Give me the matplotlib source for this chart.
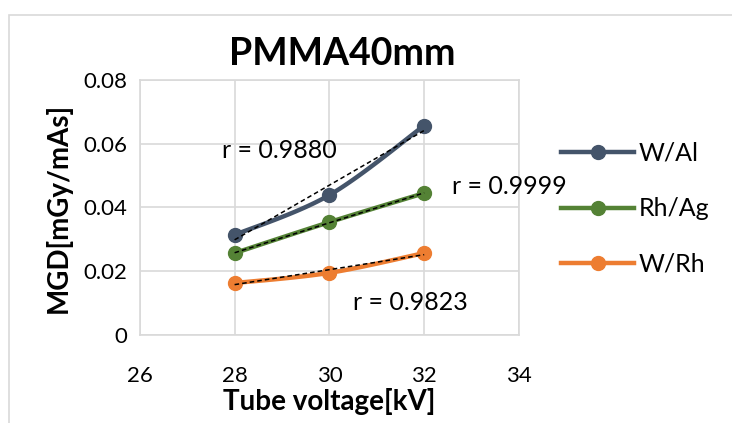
import numpy as np
import matplotlib.pyplot as plt
from matplotlib.lines import Line2D

# data
kv = [28, 30, 32]
w_al = [0.0314, 0.0439, 0.0657]
rh_ag = [0.0257, 0.0354, 0.0445]
w_rh = [0.0163, 0.0195, 0.0257]
series_names = ['W/Al', 'Rh/Ag', 'W/Rh']
r_labels = ['r = 0.9880', 'r = 0.9999', 'r = 0.9823']
colors = ['#44546a', '#548235', '#ed7d31']

plt.rcParams['font.family'] = ['Lato', 'DejaVu Sans']


def smooth(x, y, n=40):
    # cardinal spline through the points, similar to Excel's smoothed line
    x = np.asarray(x, float)
    y = np.asarray(y, float)
    px = np.concatenate([[x[0]], x, [x[-1]]])
    py = np.concatenate([[y[0]], y, [y[-1]]])
    xs, ys = [], []
    t = np.linspace(0, 1, n)
    for i in range(1, len(px) - 2):
        p0, p1, p2, p3 = (np.array([px[j], py[j]]) for j in (i - 1, i, i + 1, i + 2))
        c1 = p1 + (p2 - p0) / 6
        c2 = p2 - (p3 - p1) / 6
        b = ((1 - t) ** 3)[:, None] * p1 + (3 * (1 - t) ** 2 * t)[:, None] * c1 \
            + (3 * (1 - t) * t ** 2)[:, None] * c2 + (t ** 3)[:, None] * p2
        xs.append(b[:, 0])
        ys.append(b[:, 1])
    return np.concatenate(xs), np.concatenate(ys)


fig = plt.figure(figsize=(7.32, 4.23), dpi=100)
ax = fig.add_axes([0.191, 0.208, 0.518, 0.603])

handles = []
for ys, name, c in zip([w_al, rh_ag, w_rh], series_names, colors):
    sx, sy = smooth(kv, ys)
    ax.plot(sx, sy, color=c, lw=3.2, solid_capstyle='round', zorder=3)
    ax.plot(kv, ys, 'o', color=c, ms=10, zorder=4)
    k, b0 = np.polyfit(kv, ys, 1)
    fx = np.array([kv[0], kv[-1]])
    ax.plot(fx, k * fx + b0, '--', color='black', lw=1.1, dashes=(3, 2), zorder=5)
    handles.append(Line2D([0], [0], color=c, lw=3.2, marker='o', ms=10))

ax.set_xlim(26, 34)
ax.set_ylim(0, 0.08)
ax.set_xticks([26, 28, 30, 32, 34])
ax.set_yticks([0, 0.02, 0.04, 0.06, 0.08])
ax.set_yticklabels(['0', '0.02', '0.04', '0.06', '0.08'])
ax.tick_params(length=0, labelsize=16, colors='black')
ax.tick_params(axis='x', pad=22)
ax.tick_params(axis='y', pad=9)
ax.grid(color='#d9d9d9', lw=1.2)
for s in ax.spines.values():
    s.set_color('#d9d9d9')
    s.set_linewidth(1.2)

ax.set_xlabel('Tube voltage[kV]', fontsize=20, fontweight='bold', labelpad=2)
ax.set_ylabel('MGD[mGy/mAs]', fontsize=20, fontweight='bold', labelpad=8)
fig.text(0.467, 0.872, 'PMMA40mm', fontsize=27, fontweight='bold', ha='center', va='center')

fig.text(0.303, 0.645, r_labels[0], fontsize=18, va='center')
fig.text(0.617, 0.56, r_labels[1], fontsize=18, va='center')
fig.text(0.482, 0.286, r_labels[2], fontsize=18, va='center')

fig.legend(handles, series_names, loc='upper left', bbox_to_anchor=(0.736, 0.718),
           frameon=False, fontsize=18, handlelength=2.9, labelspacing=1.3,
           handletextpad=0.2, borderpad=0.4)

# light outer frame like the chart area border
fig.add_artist(plt.Rectangle((0.012, -0.01), 1.0, 0.975, transform=fig.transFigure,
                             fill=False, edgecolor='#d9d9d9', lw=1.2))

fig.savefig('out.png', dpi=100)
